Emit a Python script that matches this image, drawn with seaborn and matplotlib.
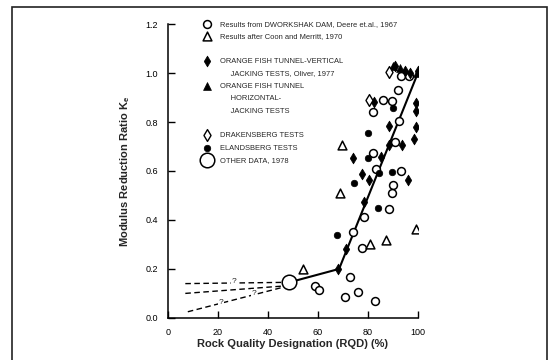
import matplotlib
matplotlib.use("Agg")
import matplotlib.pyplot as plt
import seaborn as sns
from matplotlib.lines import Line2D
from matplotlib.patches import Rectangle

# data
dworshak_x = [93.2, 96.5, 91.9, 85.9, 89.6, 81.9, 92.3, 91.0, 81.9, 83.2, 93.2, 89.9,
              89.6, 88.5, 78.5, 74.1, 77.6, 72.8, 75.9, 70.9, 82.9, 58.9, 60.5]
dworshak_y = [0.99, 0.99, 0.93, 0.89, 0.885, 0.84, 0.805, 0.72, 0.672, 0.61, 0.60, 0.543,
              0.511, 0.445, 0.414, 0.352, 0.284, 0.169, 0.107, 0.084, 0.067, 0.131, 0.114]

coon_x = [53.9, 69.5, 68.9, 80.9, 87.2, 99.2]
coon_y = [0.20, 0.706, 0.509, 0.302, 0.318, 0.363]

vertical_x = [68.0, 71.2, 78.3, 73.9, 85.2, 77.5, 80.5, 96.1, 88.5, 88.5, 93.5, 98.3,
              99.2, 99.2, 99.2, 82.5, 91.0, 95.0, 97.0, 100.0]
vertical_y = [0.20, 0.28, 0.475, 0.652, 0.658, 0.588, 0.563, 0.563, 0.785, 0.706, 0.706, 0.73,
              0.778, 0.879, 0.846, 0.88, 1.03, 1.01, 1.0, 1.01]

horizontal_x = [90.0, 93.0, 99.5]
horizontal_y = [1.03, 1.02, 1.0]

drakensberg_x = [88.5, 80.5]
drakensberg_y = [1.005, 0.89]

elandsberg_x = [67.6, 74.3, 79.9, 79.9, 84.1, 84.5, 89.5, 90.1]
elandsberg_y = [0.339, 0.55, 0.652, 0.754, 0.448, 0.59, 0.597, 0.856]

other_x = [48.5]
other_y = [0.145]

# trend line and the dashed (uncertain) extensions
trend_x = [48.5, 68.5, 100]
trend_y = [0.145, 0.20, 1.0]
dash_upper_x, dash_upper_y = [7, 46], [0.14, 0.145]
dash_middle_x, dash_middle_y = [7, 46], [0.10, 0.13]
dash_lower_x, dash_lower_y = [8, 46], [0.025, 0.125]
q_x = [26.5, 34.5, 21.2]
q_y = [0.148, 0.10, 0.062]

# legend rows: (series index or None, text); None = continuation / blank row
legend_rows = [
    (0, "Results from DWORKSHAK DAM, Deere et.al., 1967"),
    (1, "Results after Coon and Merritt, 1970"),
    (None, ""),
    (2, "ORANGE FISH TUNNEL-VERTICAL"),
    (None, "     JACKING TESTS, Oliver, 1977"),
    (3, "ORANGE FISH TUNNEL"),
    (None, "     HORIZONTAL-"),
    (None, "     JACKING TESTS"),
    (None, ""),
    (4, "DRAKENSBERG TESTS"),
    (5, "ELANDSBERG TESTS"),
    (6, "OTHER DATA, 1978"),
]

sns.set_style("ticks")
plt.rcParams["font.family"] = ["Liberation Sans", "DejaVu Sans"]
plt.rcParams["mathtext.fontset"] = "custom"
plt.rcParams["mathtext.rm"] = "Liberation Sans"
plt.rcParams["mathtext.bf"] = "Liberation Sans:bold"

fig = plt.figure(figsize=(5.52, 3.6), dpi=100)
ax = fig.add_axes([0.304, 0.117, 0.453, 0.816])

sns.lineplot(x=trend_x, y=trend_y, ax=ax, color="black", lw=1.5, zorder=2)
for dx, dy in [(dash_upper_x, dash_upper_y), (dash_middle_x, dash_middle_y),
               (dash_lower_x, dash_lower_y)]:
    ax.plot(dx, dy, color="black", lw=1.0, ls=(0, (4, 2.5)), zorder=2)
for qx, qy in zip(q_x, q_y):
    ax.text(qx, qy, "?", fontsize=6, ha="center", va="center",
            bbox=dict(fc="white", ec="none", pad=0.3), zorder=3)

kw = dict(ax=ax, edgecolor="black", zorder=4, legend=False)
h = []
h.append(sns.scatterplot(x=dworshak_x, y=dworshak_y, marker="o", s=32, facecolor="white",
                         linewidth=1.1, **kw).collections[-1])
h.append(sns.scatterplot(x=coon_x, y=coon_y, marker="^", s=40, facecolor="white",
                         linewidth=1.1, **kw).collections[-1])
h.append(sns.scatterplot(x=vertical_x, y=vertical_y, marker="d", s=30, color="black",
                         linewidth=0.5, **kw).collections[-1])
h.append(sns.scatterplot(x=horizontal_x, y=horizontal_y, marker="^", s=32, color="black",
                         linewidth=0.5, **kw).collections[-1])
h.append(sns.scatterplot(x=drakensberg_x, y=drakensberg_y, marker="d", s=36, facecolor="white",
                         linewidth=1.0, **kw).collections[-1])
h.append(sns.scatterplot(x=elandsberg_x, y=elandsberg_y, marker="o", s=22, color="black",
                         linewidth=0.5, **kw).collections[-1])
h.append(sns.scatterplot(x=other_x, y=other_y, marker="o", s=110, facecolor="white",
                         linewidth=1.1, **kw).collections[-1])

blank = Line2D([], [], ls="none")
handles = [h[i] if i is not None else blank for i, _ in legend_rows]
texts = [t for _, t in legend_rows]
ax.legend(handles, texts, loc="upper left", bbox_to_anchor=(0.125, 1.023), frameon=False,
          prop=dict(size=5.4), labelspacing=0.69, handletextpad=1.1, borderaxespad=0,
          handlelength=1.3, scatterpoints=1)

ax.set_xlim(0, 100)
ax.set_ylim(0, 1.2)
ax.set_xticks([0, 20, 40, 60, 80, 100])
ax.set_yticks([0.0, 0.2, 0.4, 0.6, 0.8, 1.0, 1.2])
ax.set_yticklabels(["0.0", "0.2", "0.4", "0.6", "0.8", "1.0", "1.2"])
ax.tick_params(direction="in", length=5, width=1, labelsize=6.5, pad=7, colors="black")
sns.despine(ax=ax)
for s in ["left", "bottom"]:
    ax.spines[s].set_linewidth(1.1)
    ax.spines[s].set_color("black")

ax.set_xlabel("Rock Quality Designation (RQD) (%)", fontsize=8, fontweight="bold")
ax.set_ylabel(r"Modulus Reduction Ratio K$_\mathbf{e}$", fontsize=8, fontweight="bold")
ax.xaxis.set_label_coords(0.5, -0.072)
ax.yaxis.set_label_coords(-0.142, 0.5)

fig.patches.append(Rectangle((12 / 552, -0.02), 535 / 552, 1.0 - 7 / 360 + 0.02,
                             transform=fig.transFigure, fill=False, ec="#222222", lw=1.2))

fig.savefig("out.png", dpi=100)
